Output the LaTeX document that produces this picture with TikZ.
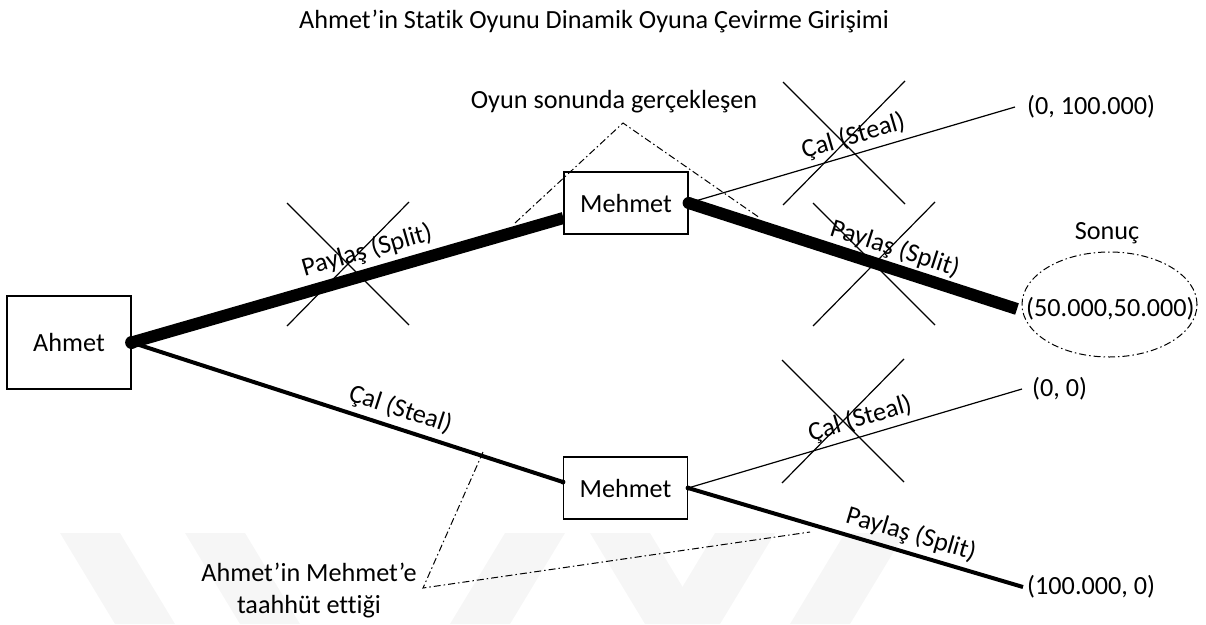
\documentclass[tikz,border=0pt]{standalone}
\usepackage{fontspec}
\setmainfont{Carlito}[Ligatures=NoCommon]
\usetikzlibrary{shapes.geometric,backgrounds}
\begin{document}
\begin{tikzpicture}[x=1pt,y=-1pt,
  every node/.style={font=\fontsize{26.2}{32}\selectfont},
  player/.style={draw,line width=1.2pt,fill=white,minimum width=124pt,inner sep=0pt},
  thinedge/.style={line width=1.2pt},
  midedge/.style={line width=4pt},
  heavyedge/.style={line width=12pt},
  dashdot/.style={line width=1pt,dash pattern=on 7pt off 3pt on 1.5pt off 3pt},
  lab/.style={sloped,above,inner sep=5pt},
  xmark/.pic={\draw[line width=1.2pt] (-61,-61)--(61,61) (61,-62)--(-61,62);},
  wm/.style={fill=gray!7}
]
\useasboundingbox (0,0) rectangle (1206,624);

% title
\node (title) at (594,21) {Ahmet’in Statik Oyunu Dinamik Oyuna Çevirme Girişimi};

% players
\node[player,minimum height=93pt] (ahmet) at (69,342.5) {Ahmet};
\node[player,minimum height=62pt] (m1) at (626,203) {Mehmet};
\node[player,minimum height=62pt] (m2) at (625.5,488) {Mehmet};

% payoffs
\node[anchor=west,inner sep=0pt,inner xsep=12pt] (p1) at (1015,107) {(0, 100.000)};
\node[anchor=west,inner sep=0pt,inner xsep=9pt] (p2) at (1017,309) {(50.000,50.000)};
\node[anchor=west,inner sep=0pt,inner xsep=10pt] (p3) at (1022,389) {(0, 0)};
\node[anchor=west,inner sep=0pt,inner xsep=4pt] (p4) at (1023,587) {(100.000, 0)};

% outcome marker
\node[ellipse,draw,dashdot,minimum width=175pt,minimum height=105pt] (goal) at (1109.5,304.5) {};
\node (sonuc) at (1107,233) {Sonuç};

\begin{scope}[on background layer]
  % faint background bands
  \foreach \a in {60,185,590}
    \fill[wm] (\a,533) -- (\a+60,533) -- (\a+115,624) -- (\a+55,624) -- cycle;
  \foreach \a in {505,715,845}
    \fill[wm] (\a,533) -- (\a+60,533) -- (\a+5,624) -- (\a-55,624) -- cycle;

  % game tree edges
  \draw[heavyedge] (ahmet.east) -- ([yshift=-15pt]m1.west)
    node[lab,pos=0.56] {Paylaş (Split)};
  \draw[midedge] (ahmet.east) -- ([yshift=6pt]m2.west)
    node[lab,pos=0.61] {Çal (Steal)};
  \draw[thinedge] (m1.east) -- (p1.west)
    node[lab,pos=0.52] {Çal (Steal)};
  \draw[heavyedge] (m1.east) -- (p2.west)
    node[lab,pos=0.61,inner sep=2pt] {Paylaş (Split)};
  \draw[thinedge] (m2.east) -- (p3.west)
    node[lab,pos=0.53] {Çal (Steal)};
  \draw[midedge] (m2.east) -- (p4.west)
    node[lab,pos=0.65] {Paylaş (Split)};
\end{scope}

% decision dots
\fill (ahmet.east) circle (6.5pt);
\fill (m1.east) circle (6pt);
\fill ([yshift=6pt]m2.west) circle (2.5pt);
\fill (m2.east) circle (2.5pt);

% crossed-out moves
\pic at (348,264) {xmark};
\pic at (844,143) {xmark};
\pic at (874,264) {xmark};
\pic at (843,421) {xmark};

% annotations
\node (topnote) at (614,102) {Oyun sonunda gerçekleşen};
\coordinate (ta) at (623,123);
\coordinate (tl) at (515,223);
\coordinate (tr) at (760,218);
\draw[dashdot] (tl) -- (ta) -- (tr);

\node[align=center] (botnote) at (309,591) {Ahmet’in Mehmet’e\\taahhüt ettiği};
\coordinate (ba) at (423,588);
\coordinate (bl) at (483,452);
\coordinate (br) at (810,532);
\draw[dashdot] (bl) -- (ba) -- (br);
\end{tikzpicture}
\end{document}
